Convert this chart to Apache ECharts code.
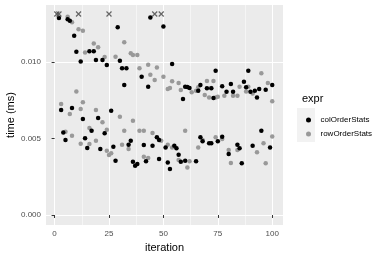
<!DOCTYPE html>
<html>
<head>
<meta charset="utf-8">
<script src="https://cdn.jsdelivr.net/npm/echarts@6/dist/echarts.min.js"></script>
<style>
  html, body { margin: 0; padding: 0; background: #fff; }
  #chart { width: 390px; height: 260px; }
</style>
</head>
<body>
<div id="chart"></div>
<script>
// iteration, time (ms)
const colOrderStats = [
  [2, 0.01288], [6, 0.0128], [7, 0.0127], [9, 0.01172], [10, 0.01067], [12, 0.01004],
  [16, 0.0107], [18, 0.0107], [19, 0.01013], [22, 0.01013], [24, 0.0098], [29, 0.01227],
  [30, 0.01008], [31, 0.0096], [33, 0.0096], [32, 0.0085], [40, 0.00904], [43, 0.00839],
  [44, 0.01292], [50, 0.01233], [54, 0.00987], [59, 0.00758], [60, 0.00839], [61, 0.00837],
  [62, 0.0083], [66, 0.00812], [67, 0.0085], [70, 0.00828], [72, 0.00828], [73, 0.00765],
  [74, 0.00943], [77, 0.00841], [79, 0.00806], [81, 0.00856], [82, 0.00806], [87, 0.00871],
  [88, 0.00835], [89, 0.00943], [90, 0.00806], [92, 0.00812], [93, 0.00769], [94, 0.00824],
  [97, 0.00819], [100, 0.0085],
  [3, 0.00686], [8, 0.00699], [13, 0.00627], [20, 0.00634], [26, 0.00682], [4, 0.0054],
  [5, 0.0049], [17, 0.00551], [23, 0.00534], [14, 0.00501], [15, 0.00438], [21, 0.00431],
  [27, 0.00446], [28, 0.00355], [34, 0.00459], [35, 0.00486], [36, 0.00348], [37, 0.00322],
  [38, 0.00333], [41, 0.00458], [42, 0.00351], [45, 0.00453], [47, 0.00508], [48, 0.00366],
  [48, 0.0049], [51, 0.00442], [52, 0.00344], [53, 0.003], [55, 0.00453], [56, 0.00436],
  [57, 0.00394], [58, 0.00348], [60, 0.00355], [65, 0.00351], [67, 0.00508], [68, 0.00482],
  [71, 0.00469], [72, 0.00469], [75, 0.00482], [77, 0.00512], [80, 0.00399], [84, 0.00459],
  [85, 0.00436], [86, 0.00338], [91, 0.00453], [95, 0.00551], [99, 0.00442]
];
const rowOrderStats = [
  [6, 0.01296], [8, 0.0126], [11, 0.01214], [13, 0.01205], [14, 0.01063], [18, 0.01122],
  [20, 0.01096], [23, 0.01033], [28, 0.01035], [32, 0.01129], [35, 0.01057], [36, 0.01046],
  [38, 0.01046], [39, 0.0096], [43, 0.00982], [44, 0.00917], [47, 0.00965], [46, 0.00882],
  [50, 0.00904], [54, 0.00874], [57, 0.00863], [52, 0.00824], [53, 0.0083], [58, 0.00817],
  [63, 0.00802], [65, 0.00812], [66, 0.00835], [69, 0.00784], [70, 0.00876], [73, 0.00876],
  [72, 0.0083], [71, 0.00769], [74, 0.00769], [75, 0.00773], [78, 0.0078], [82, 0.0078],
  [84, 0.0078], [85, 0.00839], [89, 0.00839], [88, 0.00808], [91, 0.00795], [95, 0.00926],
  [98, 0.00863], [100, 0.00743],
  [3, 0.00725], [10, 0.00808], [13, 0.00737], [12, 0.00693], [7, 0.0066], [19, 0.00686],
  [22, 0.00606], [30, 0.00642], [16, 0.00569], [24, 0.00558], [5, 0.00545], [8, 0.00518],
  [12, 0.00466], [16, 0.00464], [19, 0.00486], [24, 0.0042], [26, 0.00403], [25, 0.00392],
  [31, 0.00459], [32, 0.00551], [34, 0.00431], [36, 0.00616], [39, 0.00551], [41, 0.00551],
  [41, 0.00381], [43, 0.00373], [45, 0.00536], [49, 0.00486], [52, 0.00459], [54, 0.00442],
  [57, 0.0036], [60, 0.00551], [61, 0.00311], [62, 0.00351], [66, 0.00442], [68, 0.0049],
  [74, 0.00508], [77, 0.00497], [80, 0.00425], [81, 0.0034], [84, 0.00425], [93, 0.0041],
  [96, 0.00469], [97, 0.00338], [100, 0.00514]
];
// points cut at the top of the range
const outlierIters = [1, 2, 11, 25, 46, 49];
const outlierTime = 0.01314;

const xMajor = [0, 25, 50, 75, 100];
const xMinor = [12.5, 37.5, 62.5, 87.5];
const yMajor = [0, 0.005, 0.010];
const yMinor = [0.0025, 0.0075, 0.0125];

const gridLines = [];
xMajor.forEach(v => gridLines.push({ xAxis: v, lineStyle: { width: 1.1 } }));
xMinor.forEach(v => gridLines.push({ xAxis: v, lineStyle: { width: 0.5 } }));
yMajor.forEach(v => gridLines.push({ yAxis: v, lineStyle: { width: 1.1 } }));
yMinor.forEach(v => gridLines.push({ yAxis: v, lineStyle: { width: 0.5 } }));

const chart = echarts.init(document.getElementById('chart'));
const option = {
  animation: false,
  textStyle: { fontFamily: 'Liberation Sans, Arial, sans-serif' },
  grid: {
    left: 46, right: 107, top: 5, bottom: 35,
    outerBoundsMode: 'none', containLabel: false,
    show: true, backgroundColor: '#ebebeb', borderWidth: 0
  },
  title: {
    text: 'expr', left: 297, top: 88,
    textStyle: { fontSize: 11, fontWeight: 'normal', color: '#000' }
  },
  legend: {
    orient: 'vertical', left: 301, top: 111, itemGap: 6,
    itemWidth: 10, itemHeight: 5, icon: 'circle',
    data: ['colOrderStats', 'rowOrderStats'],
    textStyle: { fontSize: 8, color: '#000', padding: [0, 0, 0, 2] }
  },
  graphic: [{
    type: 'rect', left: 297, top: 108, z: -1,
    shape: { width: 18, height: 34 }, style: { fill: '#f2f2f2' }
  }],
  xAxis: {
    type: 'value', min: -3.95, max: 104.95,
    name: 'iteration', nameLocation: 'middle', nameGap: 17, nameMoveOverlap: false,
    nameTextStyle: { fontSize: 11, color: '#000' },
    axisLine: { show: false },
    axisTick: { show: true, customValues: xMajor, length: 3, lineStyle: { color: '#333' } },
    axisLabel: { customValues: xMajor, fontSize: 8, color: '#4d4d4d', margin: 5 },
    splitLine: { show: false }
  },
  yAxis: {
    type: 'value', min: -0.000654, max: 0.01373,
    name: 'time (ms)', nameLocation: 'middle', nameGap: 30, nameMoveOverlap: false,
    nameTextStyle: { fontSize: 11, color: '#000' },
    axisLine: { show: false },
    axisTick: { show: true, customValues: yMajor, length: 3, lineStyle: { color: '#333' } },
    axisLabel: {
      customValues: yMajor, fontSize: 8, color: '#4d4d4d', margin: 5,
      formatter: v => v.toFixed(3)
    },
    splitLine: { show: false }
  },
  series: [
    {
      name: 'grid', type: 'scatter', data: [], z: 1, silent: true,
      markLine: {
        silent: true, symbol: 'none', label: { show: false }, z: 0,
        lineStyle: { color: '#fff', type: 'solid' },
        data: gridLines
      }
    },
    {
      name: 'colOrderStats', type: 'scatter', z: 3,
      symbol: 'circle', symbolSize: 4.5,
      itemStyle: { color: '#000', opacity: 1 },
      data: colOrderStats
    },
    {
      name: 'rowOrderStats', type: 'scatter', z: 2,
      symbol: 'circle', symbolSize: 4.5,
      itemStyle: { color: '#999', opacity: 1 },
      data: rowOrderStats
    },
    {
      name: 'outliers', type: 'scatter', z: 3,
      symbol: 'path://M0,0L10,10M10,0L0,10', symbolSize: 5,
      itemStyle: { color: 'none', borderColor: '#444', borderWidth: 1.2 },
      data: outlierIters.map(i => [i, outlierTime])
    }
  ]
};
chart.setOption(option);
</script>
</body>
</html>
